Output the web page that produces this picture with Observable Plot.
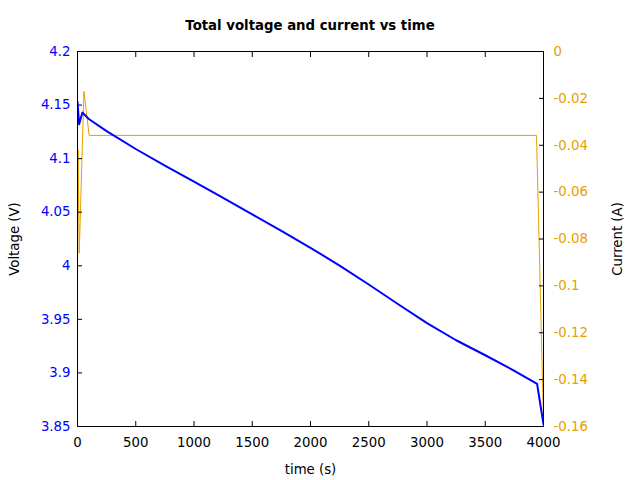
<!DOCTYPE html>
<html><head><meta charset="utf-8">
<script src="https://cdn.jsdelivr.net/npm/d3@7"></script>
<script src="https://cdn.jsdelivr.net/npm/@observablehq/plot@0.6"></script>
<style>
body{margin:0;background:#fff;font-family:"DejaVu Sans",sans-serif;}
#title{height:38px;width:640px;box-sizing:border-box;padding:18px 97px 0 77px;text-align:center;font-weight:bold;font-size:13.3px;line-height:16px;color:#000;}
</style></head><body>
<div id="title">Total voltage and current vs time</div>
<div id="chart"></div>
<script>
// Voltage series (time in s, voltage in V)
const voltageTime = [0, 14, 42, 97, 250, 500, 750, 1000, 1250, 1500, 1750, 2000, 2250, 2500, 2750, 3000, 3250, 3500, 3750, 3945, 4000];
const voltage     = [4.153, 4.132, 4.143, 4.137, 4.1257, 4.109, 4.0935, 4.0785, 4.0633, 4.048, 4.0325, 4.0168, 4.0002, 3.9825, 3.9643, 3.9465, 3.9305, 3.9165, 3.902, 3.8897, 3.852];
// Current series (time in s, current in A)
const currentTime = [0, 5, 15, 55, 100, 3940, 4000];
const current     = [-0.099, -0.042, -0.086, -0.017, -0.0358, -0.0358, -0.158];
// Tick values
const xTicks = [0, 500, 1000, 1500, 2000, 2500, 3000, 3500, 4000];
const voltageTicks = [3.85, 3.9, 3.95, 4, 4.05, 4.1, 4.15, 4.2];
const currentTicks = [-0.16, -0.14, -0.12, -0.1, -0.08, -0.06, -0.04, -0.02, 0];

const vDomain = [3.85, 4.2];
const cDomain = [-0.16, 0];
const toV = c => vDomain[0] + (c - cDomain[0]) / (cDomain[1] - cDomain[0]) * (vDomain[1] - vDomain[0]);
const fromV = v => cDomain[0] + (v - vDomain[0]) / (vDomain[1] - vDomain[0]) * (cDomain[1] - cDomain[0]);

const vData = voltageTime.map((t, i) => ({t, v: voltage[i]}));
const cData = currentTime.map((t, i) => ({t, c: current[i]}));

const chart = Plot.plot({
  width: 640, height: 442,
  marginTop: 13, marginBottom: 54, marginLeft: 77, marginRight: 97,
  style: {fontFamily: "DejaVu Sans", fontSize: "13.3px", background: "white", color: "black"},
  x: {domain: [0, 4000]},
  y: {domain: vDomain},
  marks: [
    Plot.line(cData, {x: "t", y: d => toV(d.c), stroke: "#e69f00", strokeWidth: 1, clip: true}),
    Plot.line(vData, {x: "t", y: "v", stroke: "#0000ff", strokeWidth: 2, clip: true}),
    Plot.axisX({anchor: "bottom", ticks: xTicks, tickSize: -5, tickPadding: 16, tickFormat: d => String(d), label: null, stroke: "black", fill: "black"}),
    Plot.axisX({anchor: "top", ticks: xTicks, tickSize: -5, tickFormat: () => "", label: null, stroke: "black"}),
    Plot.axisY({anchor: "left", ticks: voltageTicks, tickSize: -5, tickPadding: 12, tickFormat: d => String(d), label: null, stroke: "black", fill: "#0000ff"}),
    Plot.axisY({anchor: "right", ticks: currentTicks.map(toV), tickSize: -5, tickPadding: 15, tickFormat: v => String(+fromV(v).toFixed(3)), label: null, stroke: "black", fill: "#e69f00"}),
    Plot.frame({stroke: "black"}),
    Plot.text(["Voltage (V)"], {frameAnchor: "left", dx: -63, rotate: -90, textAnchor: "middle", lineAnchor: "middle", fill: "black"}),
    Plot.text(["Current (A)"], {frameAnchor: "right", dx: 74, rotate: -90, textAnchor: "middle", lineAnchor: "middle", fill: "black"}),
    Plot.text(["time (s)"], {frameAnchor: "bottom", dy: 43, textAnchor: "middle", lineAnchor: "middle", fill: "black"})
  ]
});
document.getElementById("chart").appendChild(chart);
</script>
</body></html>
